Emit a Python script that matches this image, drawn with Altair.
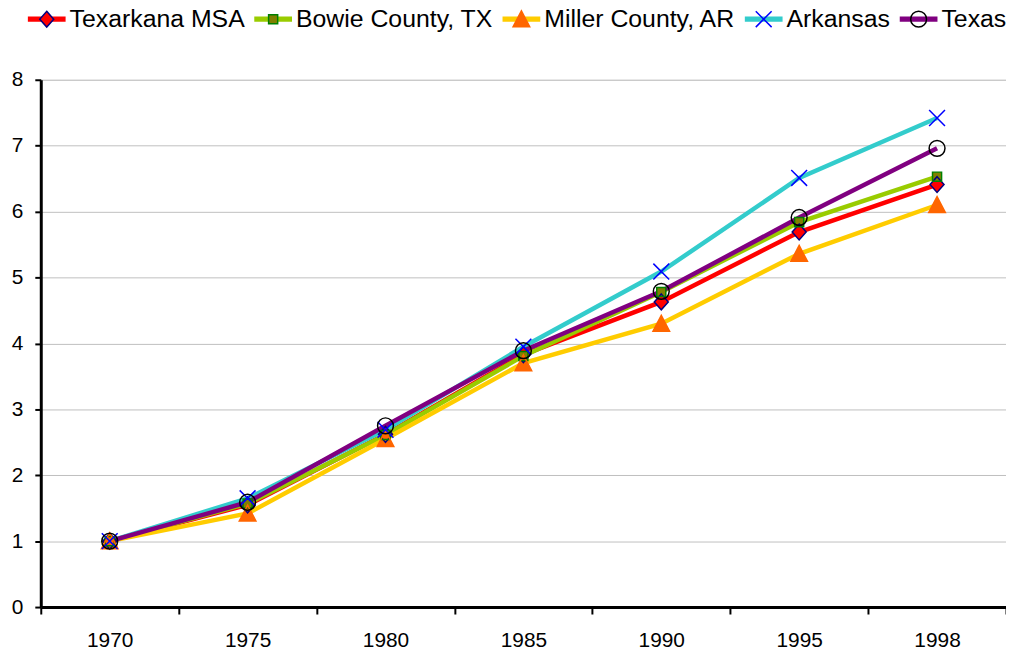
import altair as alt
import pandas as pd

years = ["1970", "1975", "1980", "1985", "1990", "1995", "1998"]
series = ["Texarkana MSA", "Bowie County, TX", "Miller County, AR", "Arkansas", "Texas"]

texarkana = [1.00, 1.55, 2.62, 3.83, 4.63, 5.69, 6.41]
bowie = [1.00, 1.57, 2.61, 3.81, 4.78, 5.84, 6.53]
miller = [1.00, 1.42, 2.55, 3.70, 4.30, 5.36, 6.10]
arkansas = [1.00, 1.65, 2.69, 3.95, 5.09, 6.51, 7.42]
texas = [1.00, 1.59, 2.75, 3.89, 4.79, 5.91, 6.96]

line_colors = ["#FF0000", "#99CC00", "#FFCC00", "#33CCCC", "#800080"]
marker_fills = ["#FF0000", "#808000", "#FF6600", "rgba(0,0,0,0)", "rgba(0,0,0,0)"]
marker_strokes = ["#000080", "#008000", "#FF6600", "#0000FF", "#000000"]
# marker outlines; the trailing move-tos give every symbol the same box width
marker_shapes = [
    "M0,-0.42L0.37,0L0,0.42L-0.37,0Z M-1,0M1,0",
    "M-0.24,-0.24H0.24V0.24H-0.24Z M-1,0M1,0",
    "M0,-0.44L0.44,0.4H-0.44Z M-1,0M1,0",
    "M-0.42,-0.42L0.42,0.42M-0.42,0.42L0.42,-0.42 M-1,0M1,0",
    "M0.42,0A0.42,0.42 0 1,1 -0.42,0A0.42,0.42 0 1,1 0.42,0Z M-1,0M1,0",
]
# legend line sample: a band of thin strokes, as wide as the marker boxes
line_symbol = "M-1,-0.1H1M-1,-0.05H1M-1,0H1M-1,0.05H1M-1,0.1H1"

values = [texarkana, bowie, miller, arkansas, texas]
rows = []
for s, vals in zip(series, values):
    for y, v in zip(years, vals):
        rows.append({"year": y, "series": s, "value": v})
df = pd.DataFrame(rows)

FONT = "Liberation Sans"
SYM = 1444
LEG_X = -14
LEG_Y = -81

x_enc = alt.X(
    "year:O",
    sort=years,
    scale=alt.Scale(type="band", paddingInner=0, paddingOuter=0),
    axis=alt.Axis(
        title=None, labelAngle=0, tickBand="extent", labelFontSize=21,
        labelFont=FONT, labelColor="black", labelPadding=16,
        tickSize=7, tickWidth=2, tickColor="black",
        domainColor="black", domainWidth=3, grid=False,
    ),
)
y_enc = alt.Y(
    "value:Q",
    scale=alt.Scale(domain=[0, 8], nice=False),
    axis=alt.Axis(
        title=None, values=[0, 1, 2, 3, 4, 5, 6, 7, 8], format="d",
        labelFontSize=21, labelFont=FONT, labelColor="black", labelPadding=12,
        tickSize=6, tickWidth=2, tickColor="black",
        domainColor="black", domainWidth=3,
        grid=True, gridColor="#C0C0C0", gridWidth=1,
    ),
)

common_legend = dict(
    orient="none", legendX=LEG_X, legendY=LEG_Y, direction="horizontal",
    columns=5, title=None, labelFontSize=25, labelFont=FONT, labelLimit=600,
    symbolSize=SYM, symbolStrokeWidth=1.5, labelOffset=3, columnPadding=6,
    padding=0, symbolOpacity=1,
)

lines = alt.Chart(df).mark_line().encode(
    x=x_enc,
    y=y_enc,
    color=alt.Color(
        "series:N",
        scale=alt.Scale(domain=series, range=line_colors),
        legend=alt.Legend(symbolType=line_symbol, labelColor="black", **common_legend),
    ),
    strokeWidth=alt.value(4.5),
    detail="series:N",
)

fill_legend = alt.Legend(labelColor="rgba(0,0,0,0)", symbolStrokeColor="rgba(0,0,0,0)",
                         **common_legend)
fills = alt.Chart(df).mark_point(filled=True, size=SYM, opacity=1).encode(
    x=x_enc,
    y=y_enc,
    color=alt.Color("series:N", scale=alt.Scale(domain=series, range=marker_fills), legend=fill_legend),
    shape=alt.Shape("series:N", scale=alt.Scale(domain=series, range=marker_shapes), legend=fill_legend),
    strokeWidth=alt.value(0),
)

outline_legend = alt.Legend(labelColor="rgba(0,0,0,0)", **common_legend)
outlines = alt.Chart(df).mark_point(filled=False, size=SYM, opacity=1).encode(
    x=x_enc,
    y=y_enc,
    color=alt.Color("series:N", scale=alt.Scale(domain=series, range=marker_strokes), legend=outline_legend),
    shape=alt.Shape("series:N", scale=alt.Scale(domain=series, range=marker_shapes), legend=outline_legend),
    strokeWidth=alt.value(1.5),
)

chart = alt.layer(lines, fills, outlines).resolve_scale(
    color="independent", shape="independent"
).resolve_legend(
    color="independent", shape="independent"
).properties(
    width=972, height=531,
    autosize=alt.AutoSizeParams(type="none"),
    padding={"left": 33, "top": 70, "right": 0, "bottom": 45},
).configure_view(strokeWidth=0).configure(background="white")

chart.save("out.html", embed_options={"renderer": "svg", "actions": False})
